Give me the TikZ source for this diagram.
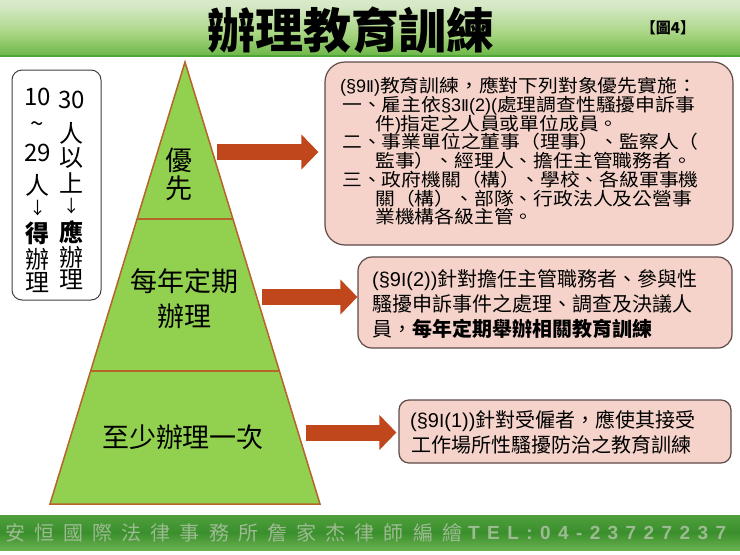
\documentclass[tikz,border=0pt]{standalone}
\usepackage{fontspec}
\newfontfamily\cjk{Noto Sans CJK TC}
\newfontfamily\cjkwide{Noto Sans CJK TC}[FakeStretch=1.1]
\newfontfamily\latsans{Liberation Sans}
\newfontfamily\romfont{DejaVu Sans}
\newcommand\mylat[1]{{\latsans #1}}
\newcommand\myrom[1]{{\romfont\addfontfeatures{Scale=0.9}#1}}
\newcommand\stacklines[2]{\vtop{\baselineskip=#1\lineskiplimit=-100pt\lineskip=0pt #2}}
\usetikzlibrary{arrows.meta}
\definecolor{pyrfill}{HTML}{92D050}
\definecolor{pyrline}{HTML}{B5642A}
\definecolor{arrowred}{HTML}{C0461C}
\definecolor{boxfill}{HTML}{F5D3CA}
\definecolor{boxedge}{HTML}{5E4A48}
\definecolor{leftedge}{HTML}{404040}
\definecolor{foottext}{HTML}{9DBB92}
\definecolor{tbline}{HTML}{4DA636}
\definecolor{tb0}{HTML}{2E7A20}
\definecolor{tb1}{HTML}{6FB84A}
\definecolor{tb2}{HTML}{A9D683}
\definecolor{tb3}{HTML}{D6E8C6}
\definecolor{tb4}{HTML}{E7EFDD}
\definecolor{fb0}{HTML}{C9E2B8}
\definecolor{fb1}{HTML}{7DBE5E}
\definecolor{fb2}{HTML}{3A8F2C}
\definecolor{fb3}{HTML}{4F9F3C}
\definecolor{fb4}{HTML}{A8D08E}
\definecolor{fb5}{HTML}{E2EED8}
\pgfdeclareverticalshading{titlebar}{100bp}{color(0bp)=(tb0); color(25bp)=(tb1); color(45bp)=(tb2); color(70bp)=(tb3); color(100bp)=(tb4)}
\pgfdeclareverticalshading{footbar}{100bp}{color(0bp)=(fb0); color(15bp)=(fb1); color(50bp)=(fb2); color(75bp)=(fb3); color(90bp)=(fb4); color(100bp)=(fb5)}
\begin{document}
\begin{tikzpicture}[x=1pt,y=-1pt,
  pyrtext/.style={font=\cjk\fontsize{27}{30}\selectfont, inner sep=0pt},
  coltext/.style={font=\cjk\fontsize{24}{24}\selectfont, inner sep=0pt},
  colarrow/.style={font=\cjk\fontsize{17}{17}\selectfont, inner sep=0pt},
  textone/.style={font=\cjkwide\fontsize{18}{18.7}\selectfont, anchor=base west, inner sep=0pt},
  texttwo/.style={font=\cjk\fontsize{20}{25}\selectfont, anchor=base west, inner sep=0pt},
  pinkbox/.style={draw=boxedge, fill=boxfill, line width=1.2pt, inner sep=0pt},
  bigarrow/.style={draw=arrowred, line width=16pt, -{Triangle[length=17pt,width=34pt]}}]
\useasboundingbox (0,0) rectangle (740,555);
\fill[white] (0,0) rectangle (740,555);
% title bar
\shade[shading=titlebar] (0,0) rectangle (740,55);
\draw[tbline, line width=1.5pt] (0,56) -- (740,56);
\node[font=\cjk\bfseries\fontsize{48}{48}\selectfont, inner sep=0pt] (title) at (351,30) {辦理教育訓練};
\node[font=\cjk\bfseries\fontsize{15}{15}\selectfont, inner sep=0pt] (fignum) at (668,28) {【圖4】};
% footer bar
\shade[shading=footbar] (0,515) rectangle (740,550);
\node[font=\cjk\fontsize{20}{20}\selectfont, text=foottext, anchor=west, inner sep=0pt] (foot1) at (5,532.5)
  {\makebox[457pt][s]{安\hfill 恒\hfill 國\hfill 際\hfill 法\hfill 律\hfill 事\hfill 務\hfill 所\hfill 詹\hfill 家\hfill 杰\hfill 律\hfill 師\hfill 編\hfill 繪}};
\node[font=\latsans\bfseries\fontsize{19}{19}\selectfont, text=foottext, anchor=west, inner sep=0pt] (foot2) at (468,532.5)
  {\makebox[258pt][s]{T\hfill E\hfill L\hfill :\hfill 0\hfill 4\hfill -\hfill 2\hfill 3\hfill 7\hfill 2\hfill 7\hfill 2\hfill 3\hfill 7}};
% pyramid
\coordinate (apex) at (185,62);
\coordinate (bl) at (50,504);
\coordinate (br) at (320,504);
\filldraw[fill=pyrfill, draw=pyrline, line width=1.5pt] (apex) -- (br) -- (bl) -- cycle;
\draw[pyrline, line width=1.5pt] (137.1,219) -- (232.9,219);
\draw[pyrline, line width=1.5pt] (90.6,371) -- (279.4,371);
\node[pyrtext] (you) at (179,160) {優};
\node[pyrtext] (xian) at (179,188) {先};
\node[pyrtext] (meinian) at (184,281) {每年定期};
\node[pyrtext] (banli) at (184,316) {辦理};
\node[pyrtext] (zhishao) at (183,437) {至少辦理一次};
% left box
\node[draw=leftedge, line width=1pt, rounded corners=10pt, minimum width=89pt, minimum height=230pt, inner sep=0pt] (leftbox) at (56.5,185) {};
\node[coltext] (c1a) at (37.5,97) {10};
\node[coltext] (c1b) at (37.5,127) {\textasciitilde};
\node[coltext] (c1c) at (37.5,153) {29};
\node[coltext] (c1d) at (37.5,185) {人};
\node[colarrow] (c1e) at (37.5,208) {↓};
\node[coltext] (c1f) at (37.5,233) {\bfseries 得};
\node[coltext] (c1g) at (37.5,259) {辦};
\node[coltext] (c1h) at (37.5,283) {理};
\node[coltext] (c2a) at (71.5,100) {30};
\node[coltext] (c2b) at (71.5,133) {人};
\node[coltext] (c2c) at (71.5,158) {以};
\node[coltext] (c2d) at (71.5,183) {上};
\node[colarrow] (c2e) at (71.5,206) {↓};
\node[coltext] (c2f) at (71.5,232) {\bfseries 應};
\node[coltext] (c2g) at (71.5,257) {辦};
\node[coltext] (c2h) at (71.5,280) {理};
% right boxes
\node[pinkbox, rounded corners=20pt, minimum width=408pt, minimum height=183pt] (box1) at (529,153.5) {};
\node[pinkbox, rounded corners=14pt, minimum width=374pt, minimum height=91pt] (box2) at (545,302.5) {};
\node[pinkbox, rounded corners=10pt, minimum width=332pt, minimum height=63pt] (box3) at (565,431.5) {};
% box 1 text
\node[textone] (b1text) at (340,92.8) {\stacklines{18.7pt}{%
  \hbox{\mylat{(§9}\myrom{Ⅱ}\mylat{)}教育訓練，應對下列對象優先實施：}
  \hbox{\hspace{2pt}一、雇主依\mylat{§3}\myrom{Ⅱ}\mylat{(2)(}處理調查性騷擾申訴事}
  \hbox{\hspace{35pt}件\mylat{)}指定之人員或單位成員。}
  \hbox{\hspace{2pt}二、事業單位之董事（理事）、監察人（}
  \hbox{\hspace{35pt}監事）、經理人、擔任主管職務者。}
  \hbox{\hspace{2pt}三、政府機關（構）、學校、各級軍事機}
  \hbox{\hspace{35pt}關（構）、部隊、行政法人及公營事}
  \hbox{\hspace{35pt}業機構各級主管。}}};
% box 2 text
\node[texttwo] (b2text) at (372,286.6) {\stacklines{24.75pt}{%
  \hbox{\mylat{(§9}\myrom{Ⅰ}\mylat{(2))}針對擔任主管職務者、參與性}
  \hbox{騷擾申訴事件之處理、調查及決議人}
  \hbox{員，\bfseries 每年定期舉辦相關教育訓練}}};
% box 3 text
\node[texttwo] (b3text) at (410,427.6) {\stacklines{25pt}{%
  \hbox{\mylat{(§9}\myrom{Ⅰ}\mylat{(1))}針對受僱者，應使其接受}
  \hbox{\hspace{1pt}工作場所性騷擾防治之教育訓練}}};
% arrows
\coordinate (a1s) at (217,152);
\coordinate (a2s) at (262,297);
\coordinate (a3s) at (306,432.5);
\draw[bigarrow, shorten >=6pt] (a1s) -- (a1s -| box1.west);
\draw[bigarrow] (a2s) -- (a2s -| box2.west);
\draw[bigarrow, shorten >=2pt] (a3s) -- (a3s -| box3.west);
\end{tikzpicture}
\end{document}
